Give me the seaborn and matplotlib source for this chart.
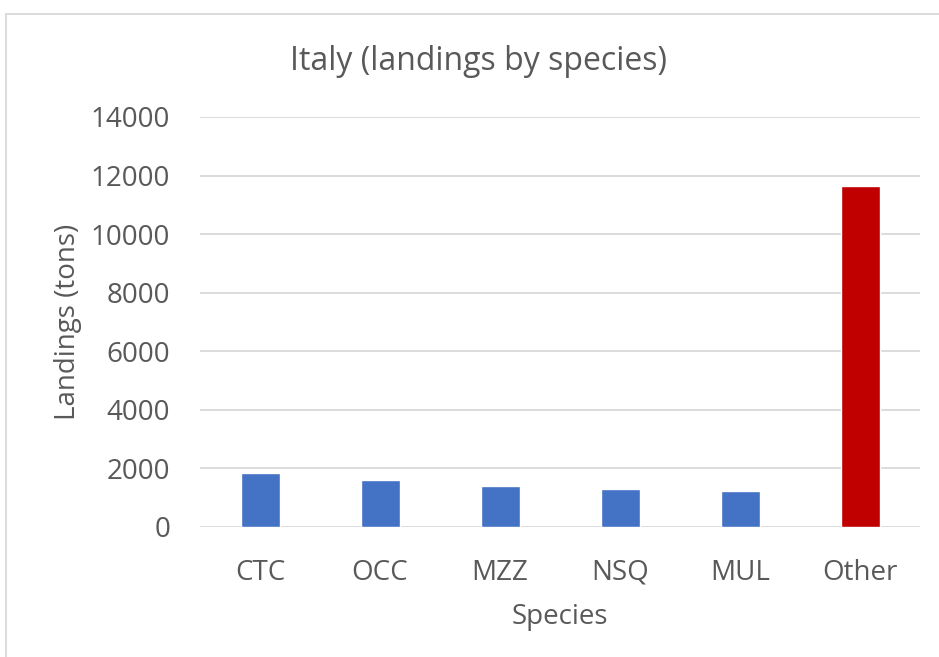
import matplotlib
matplotlib.use("Agg")
import matplotlib.pyplot as plt
import seaborn as sns
import pandas as pd
from matplotlib.patches import Rectangle

species = ["CTC", "OCC", "MZZ", "NSQ", "MUL", "Other"]
landings = [1830, 1610, 1385, 1305, 1215, 11650]
bar_colors = ["#4472C4", "#4472C4", "#4472C4", "#4472C4", "#4472C4", "#C00000"]
yticks = [0, 2000, 4000, 6000, 8000, 10000, 12000, 14000]

sns.set_theme(style="white")
plt.rcParams['font.family'] = ['Open Sans', 'DejaVu Sans']
text_color = "#595959"

df = pd.DataFrame({"Species": species, "Landings": landings})

fig = plt.figure(figsize=(9.39, 6.57), dpi=100)
ax = fig.add_axes([0.213, 0.198, 0.767, 0.624])

sns.barplot(data=df, x="Species", y="Landings", hue="Species",
            palette=dict(zip(species, bar_colors)), width=0.325,
            legend=False, ax=ax, saturation=1)

ax.set_ylim(0, 14000)
ax.set_yticks(yticks)
ax.set_yticklabels([str(v) for v in yticks])
ax.yaxis.grid(True, color="#D9D9D9", linewidth=1.3)
ax.set_axisbelow(True)
for s in ax.spines.values():
    s.set_visible(False)
ax.tick_params(axis="y", length=0, pad=21.5, labelsize=20, labelcolor=text_color)
ax.tick_params(axis="x", length=0, pad=23, labelsize=20, labelcolor=text_color)
ax.set_xlabel("Species", fontsize=20, color=text_color, labelpad=11.5)
ax.set_ylabel("Landings (tons)", fontsize=20, color=text_color, labelpad=6)
fig.text(478/939, 1 - 62/657, "Italy (landings by species)", ha="center", va="center",
         fontsize=23, color=text_color)

fig.patches.append(Rectangle((6/939, -0.1), 1.2, 1 - 14/657 + 0.1,
                             transform=fig.transFigure, fill=False,
                             edgecolor="#D9D9D9", linewidth=1.3))

fig.savefig("out.png", dpi=100, facecolor="white")
